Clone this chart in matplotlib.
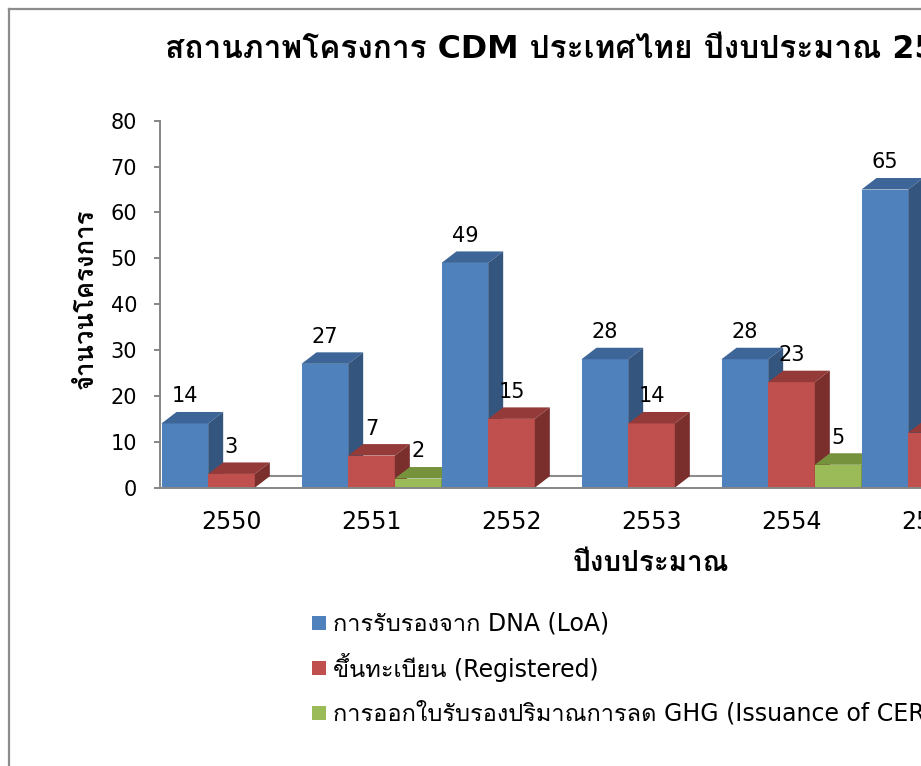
import matplotlib
matplotlib.use('Agg')
import matplotlib.pyplot as plt
from matplotlib.patches import Polygon, Rectangle
from matplotlib.lines import Line2D
from matplotlib import font_manager as fm
from matplotlib.ft2font import FT2Font

# ---------------- data ----------------
categories = ['2550', '2551', '2552', '2553', '2554', '2555']
loa = [14, 27, 49, 28, 28, 65]
registered = [3, 7, 15, 14, 23, 12]
issuance = [0, 2, 0, 0, 5, 7]
series_names = ['การรับรองจาก DNA (LoA)',
                'ขึ้นทะเบียน (Registered)',
                'การออกใบรับรองปริมาณการลด GHG (Issuance of CERs)']
title = 'สถานภาพโครงการ CDM ประเทศไทย ปีงบประมาณ 2550-2555'
ylabel = 'จำนวนโครงการ'
xlabel = 'ปีงบประมาณ'
yticks = [0, 10, 20, 30, 40, 50, 60, 70, 80]

# ---------------- fonts ----------------
pref = ['Tahoma', 'Noto Sans Thai', 'Noto Sans Thai UI', 'Loma', 'Garuda', 'Sarabun',
        'Umpush', 'Waree', 'Kinnari', 'Norasi', 'Laksaman']
weights = {}
for f in fm.fontManager.ttflist:
    try:
        cm = FT2Font(f.fname).get_charmap()
        if 0x0E01 in cm and 0x0E33 in cm:
            wt = f.weight if isinstance(f.weight, int) else (700 if 'bold' in str(f.weight).lower() else 400)
            weights.setdefault(f.name, set()).add(wt)
    except Exception:
        pass
names = list(weights)
bold_ok = [n for n in names if max(weights[n]) >= 600]
thai = None
for group in (bold_ok, names):
    for p in pref:
        if p in group:
            thai = p
            break
    if thai is None and group:
        thai = group[0]
    if thai:
        break
fam = ['DejaVu Sans'] + ([thai] if thai else [])
plt.rcParams['font.family'] = fam

# ---------------- layout ----------------
W, H = 921, 766
fig = plt.figure(figsize=(W / 100, H / 100), dpi=100)
px_x = 140.0           # pixels per category
x0_px = 160.0
y0_px, y80_px = 487.7, 120.7
xl, xr = -0.5 - 1.5 / px_x, 6.2
ax_w = (xr - xl) * px_x
ax = fig.add_axes([x0_px / W, (H - y0_px) / H, ax_w / W, (y0_px - y80_px) / H])
ax.set_xlim(xl, xr)
ax.set_ylim(0, 80)
px_y = (y0_px - y80_px) / 80.0
dx = 15.0 / px_x
dy = 11.5 / px_y

colors = [('#4F81BD', '#3D6598', '#34557E'),
          ('#C0504D', '#943B39', '#7B2F2D'),
          ('#9BBB59', '#76923C', '#5F7530')]
series = [loa, registered, issuance]
w = 1.0 / 3

grid = '#8C8C8C'
ax.plot([xl + dx, xr], [dy, dy], color=grid, lw=1.5, zorder=1, clip_on=False)

k = 0
for i in range(len(categories)):
    for j, vals in enumerate(series):
        h = vals[i]
        x = i - 0.5 + j * w
        z = 2 + 0.01 * k
        k += 1
        if h <= 0:
            continue
        fc, tc, sc = colors[j]
        ax.bar(x, h, width=w, align='edge', color=fc, edgecolor='none', zorder=z)
        ax.add_patch(Polygon([(x, h), (x + w, h), (x + w + dx, h + dy), (x + dx, h + dy)],
                             closed=True, fc=tc, ec='none', zorder=z + 0.003))
        ax.add_patch(Polygon([(x + w, 0), (x + w + dx, dy), (x + w + dx, h + dy), (x + w, h)],
                             closed=True, fc=sc, ec='none', zorder=z + 0.006))
        ax.annotate(str(h), (x + w / 2, h + dy), xytext=(0, 4), textcoords='offset points',
                    ha='center', va='bottom', fontsize=15, color='#000000', zorder=10)

for s in ['top', 'right']:
    ax.spines[s].set_visible(False)
for s in ['left', 'bottom']:
    ax.spines[s].set_color('#868686')
    ax.spines[s].set_linewidth(1.4)
ax.set_yticks(yticks)
ax.tick_params(axis='y', direction='out', length=4.5, width=1.4, color='#868686',
               labelsize=15, pad=12, labelcolor='#000000')
ax.set_xticks(range(len(categories)))
ax.set_xticklabels(categories)
ax.tick_params(axis='x', length=0, labelsize=17, pad=16, labelcolor='#000000')
ax.set_facecolor('none')

# ---------------- texts ----------------
def fx(px):
    return px / W

def fy(py):
    return (H - py) / H

fig.text(fx(165), fy(50), title, ha='left', va='center', fontsize=22.8, fontweight='bold')
fig.text(fx(86), fy(299), ylabel, ha='center', va='center', rotation=90,
         fontsize=18.5, fontweight='bold')
fig.text(fx(651), fy(563), xlabel, ha='center', va='center', fontsize=20, fontweight='bold')

for j, name in enumerate(series_names):
    top = 616 + 45 * j
    fig.add_artist(Rectangle((fx(312), fy(top + 14)), 14 / W, 14 / H,
                             transform=fig.transFigure, fc=colors[j][0], ec='none'))
    fig.text(fx(333), fy(top + 7), name, ha='left', va='center', fontsize=17)

# frame border
fig.add_artist(Line2D([fx(9), fx(9)], [fy(9), fy(H + 5)], transform=fig.transFigure,
                      color='#8C8C8C', lw=1.6))
fig.add_artist(Line2D([fx(9), fx(W + 5)], [fy(9), fy(9)], transform=fig.transFigure,
                      color='#8C8C8C', lw=1.6))

fig.savefig('out.png', dpi=100)
